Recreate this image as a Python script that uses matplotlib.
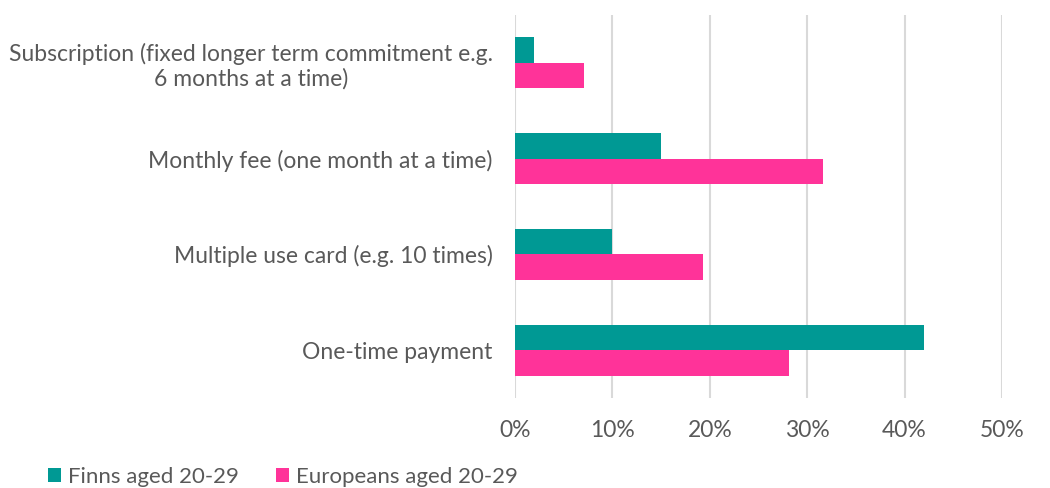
import matplotlib
matplotlib.use("Agg")
import matplotlib.pyplot as plt
import numpy as np
from matplotlib.ticker import PercentFormatter

categories = [
    "One-time payment",
    "Multiple use card (e.g. 10 times)",
    "Monthly fee (one month at a time)",
    "Subscription (fixed longer term commitment e.g.\n6 months at a time)",
]
finns = [42.0, 10.0, 15.0, 2.0]
europeans = [28.1, 19.3, 31.6, 7.1]
series_names = ["Finns aged 20-29", "Europeans aged 20-29"]
xticks = [0, 10, 20, 30, 40, 50]

plt.rcParams['font.family'] = ['Lato', 'DejaVu Sans']
TEXT = '#595959'
TEAL = '#009994'
PINK = '#FF3399'

fig = plt.figure(figsize=(10.5, 4.88), dpi=100)
ax = fig.add_axes([515/1050, 1-398/488, (1002-515)/1050, (398-15)/488])

y = np.arange(len(categories))
h = 0.266
ax.barh(y + h/2, finns, height=h, color=TEAL, label=series_names[0], zorder=3)
ax.barh(y - h/2, europeans, height=h, color=PINK, label=series_names[1], zorder=3)

ax.set_xlim(0, 50)
ax.set_ylim(-0.5, len(categories) - 0.5)
ax.set_xticks(xticks)
ax.xaxis.set_major_formatter(PercentFormatter(decimals=0))
ax.set_yticks(y)
ax.set_yticklabels(categories, multialignment='center', linespacing=1.15)
ax.tick_params(axis='both', length=0, labelsize=16.5, colors=TEXT)
ax.tick_params(axis='y', pad=16)
ax.tick_params(axis='x', pad=16)
for s in ax.spines.values():
    s.set_visible(False)
ax.grid(axis='x', color='#D9D9D9', linewidth=1.5, zorder=0)
ax.set_axisbelow(True)

handles, labels = ax.get_legend_handles_labels()
fig.legend(handles, labels, loc='center left', bbox_to_anchor=(48/1050, 1-477/488),
           ncol=2, frameon=False, fontsize=16, labelcolor=TEXT,
           borderpad=0, borderaxespad=0,
           handlelength=0.58, handleheight=0.58, handletextpad=0.3, columnspacing=1.7)

fig.savefig("out.png", dpi=100)
